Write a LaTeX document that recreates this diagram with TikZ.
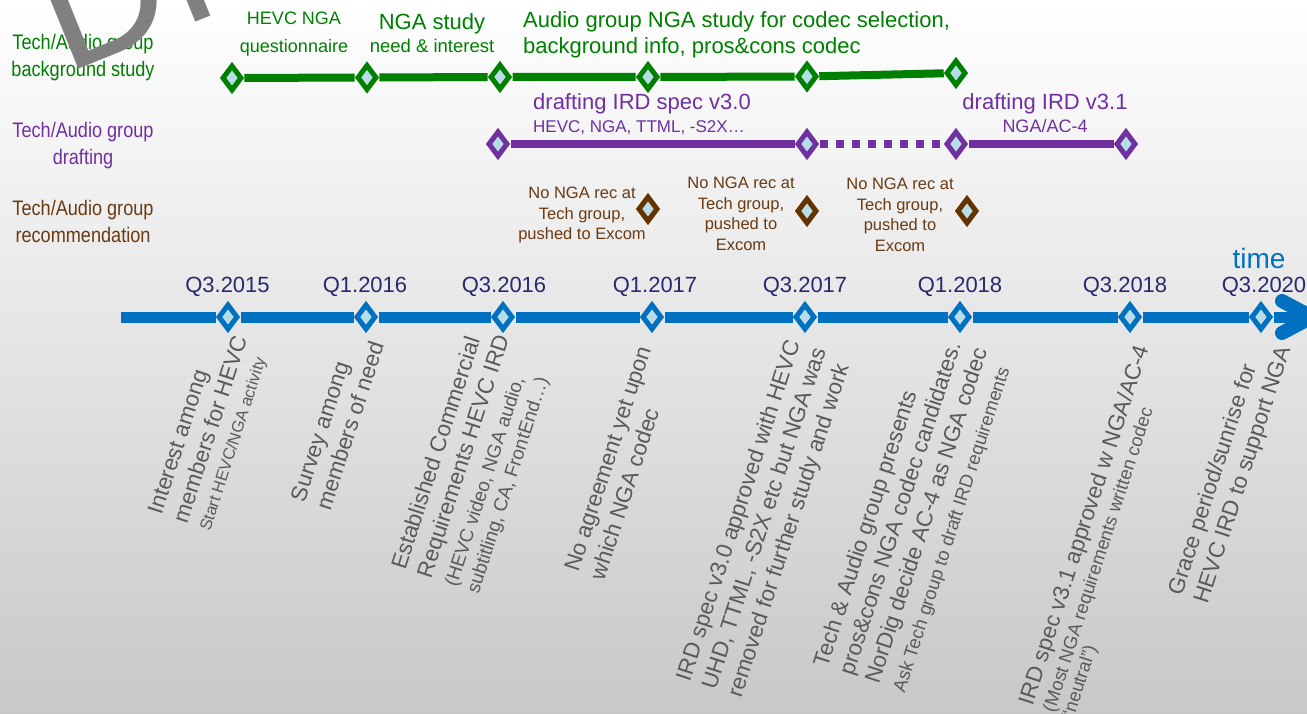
\documentclass[tikz,border=0pt]{standalone}
\usepackage{fontspec}
\setmainfont{Liberation Sans}
\usetikzlibrary{shapes.geometric}
\definecolor{cgreen}{HTML}{008000}
\definecolor{cpurple}{HTML}{7030A0}
\definecolor{cbrown}{HTML}{663300}
\definecolor{cbrowntxt}{HTML}{6B3A12}
\definecolor{cblue}{HTML}{0070C0}
\definecolor{cfill}{HTML}{B7DEE8}
\definecolor{cnavy}{HTML}{29296E}
\definecolor{cgraytxt}{HTML}{5A5A5A}
\definecolor{cbgbot}{HTML}{C8C8C8}
\definecolor{cwm}{HTML}{808080}
\newcommand{\fs}[2]{\fontsize{#1}{#2}\selectfont}
\begin{document}
\begin{tikzpicture}[x=1pt,y=-1pt,
  dia/.style={shape=diamond, draw, line width=5pt, fill=cfill, aspect=0.77, minimum width=20pt, minimum height=26pt, inner sep=0pt},
  gdia/.style={dia, draw=cgreen},
  pdia/.style={dia, draw=cpurple},
  bdia/.style={dia, draw=cbrown},
  adia/.style={dia, draw=cblue},
  gline/.style={draw=cgreen, line width=8pt},
  pline/.style={draw=cpurple, line width=8pt},
  pdots/.style={pline, dash pattern=on 8pt off 8pt},
  axisline/.style={draw=cblue, line width=11pt},
  rowlab/.style={align=center, xscale=0.863, font=\fs{21}{27}, inner sep=0pt},
  qlab/.style={anchor=base, text=cnavy, font=\fs{22}{26}, inner sep=0pt},
  rot/.style={rotate=72, anchor=west, align=left, text=cgraytxt, font=\fs{22.5}{27}, inner sep=0pt},
  brtxt/.style={align=center, text=cbrowntxt, font=\fs{16.5}{20.5}, inner sep=0pt},
]
\useasboundingbox (0,0) rectangle (1307,714);
\shade[top color=white, bottom color=cbgbot] (0,0) rectangle (1307,714);

% row labels
\node[rowlab, text=cgreen] (lab1) at (83,57.8) {Tech/Audio group\\background study};
\node[rowlab, text=cpurple] (lab2) at (83,145.8) {Tech/Audio group\\drafting};
\node[rowlab, text=cbrowntxt] (lab3) at (83,221.6) {Tech/Audio group\\recommendation};

% green row
\node[gdia] (g1) at (232,78) {};
\node[gdia] (g2) at (367,77.5) {};
\node[gdia] (g3) at (500,77) {};
\node[gdia] (g4) at (648,77) {};
\node[gdia] (g5) at (807,76.5) {};
\node[gdia] (g6) at (956,73) {};
\draw[gline] (g1) -- (g2) -- (g3) -- (g4) -- (g5) -- (g6);
\node[align=center, text=cgreen, font=\fs{18}{28}, inner sep=0pt] (gt1) at (294,33.9) {HEVC NGA\\questionnaire};
\node[align=center, text=cgreen, font=\fs{22}{23}, inner sep=0pt] (gt2) at (432,33.5) {NGA study\\{\fs{18.5}{23}need \& interest}};
\node[align=left, anchor=west, text=cgreen, font=\fs{22}{26}, inner sep=0pt] (gt3) at (523,34.9) {Audio group NGA study for codec selection,\\background info, pros\&cons codec};

% purple row
\node[pdia] (p1) at (498,144) {};
\node[pdia] (p2) at (807,144) {};
\node[pdia] (p3) at (956,144) {};
\node[pdia] (p4) at (1126,144) {};
\draw[pline] (p1) -- (p2);
\draw[pdots] (p2) -- (p3);
\draw[pline] (p3) -- (p4);
\node[align=left, anchor=west, text=cpurple, font=\fs{22}{23}, inner sep=0pt] (pt1) at (533,114.5) {drafting IRD spec v3.0\\{\fs{17}{23}HEVC, NGA, TTML, -S2X…}};
\node[align=center, text=cpurple, font=\fs{22}{23}, inner sep=0pt] (pt2) at (1045,113.3) {drafting IRD v3.1\\{\fs{18}{23}NGA/AC-4}};

% brown row
\node[bdia] (r1) at (648,209) {};
\node[bdia] (r2) at (807,211) {};
\node[bdia] (r3) at (967,211) {};
\node[brtxt] (rt1) at (582,215.3) {No NGA rec at\\Tech group,\\pushed to Excom};
\node[brtxt] (rt2) at (741,214) {No NGA rec at\\Tech group,\\pushed to\\Excom};
\node[brtxt] (rt3) at (900,215) {No NGA rec at\\Tech group,\\pushed to\\Excom};

% time axis
\coordinate (ax0) at (121,317);
\node[adia] (a1) at (228,317) {};
\node[adia] (a2) at (366,317) {};
\node[adia] (a3) at (503,317) {};
\node[adia] (a4) at (652,317) {};
\node[adia] (a5) at (805,317) {};
\node[adia] (a6) at (960,317) {};
\node[adia] (a7) at (1130,317) {};
\node[adia] (a8) at (1261,317) {};
\coordinate (tip) at (1312,317);
\coordinate (armU) at (1282,301);
\coordinate (armL) at (1282,333);
\draw[axisline] (ax0) -- (a1) -- (a2) -- (a3) -- (a4) -- (a5) -- (a6) -- (a7) -- (a8) -- (tip);
\draw[draw=cblue, line width=14pt, line cap=round, line join=round] (armU) -- (tip) -- (armL);

\node[qlab] (q1) at (227.5,292) {Q3.2015};
\node[qlab] (q2) at (365,292) {Q1.2016};
\node[qlab] (q3) at (504,292) {Q3.2016};
\node[qlab] (q4) at (655,292) {Q1.2017};
\node[qlab] (q5) at (805,292) {Q3.2017};
\node[qlab] (q6) at (960,292) {Q1.2018};
\node[qlab] (q7) at (1125,292) {Q3.2018};
\node[qlab] (q8) at (1264,292) {Q3.2020};
\node[anchor=base, text=cblue, font=\fs{28}{30}, inner sep=0pt] (time) at (1259,269) {time};

% rotated descriptions
\node[rot] (t1) at (180,522) {Interest among\\members for HEVC\\[-3pt]{\fs{16.5}{27}Start HEVC/NGA activity}};
\node[rot] (t2) at (310,505) {Survey among\\members of need};
\node[rot] (t3) at (436,581) {Established Commercial\\Requirements HEVC IRD\\{\fs{19}{27}(HEVC video, NGA audio,}\\[-4pt]{\fs{19}{27}subtitling, CA, FrontEnd…)}};
\node[rot] (t4) at (584,575) {No agreement yet upon\\which NGA codec};
\node[rot] (t5) at (710,689) {IRD spec v3.0 approved with HEVC\\UHD, TTML, -S2X etc but NGA was\\removed for further study and work};
\node[rot] (t6) at (860,679) {Tech \& Audio group presents\\pros\&cons NGA codec candidates.\\NorDig decide AC-4 as NGA codec\\{\fs{18.5}{27}Ask Tech group to draft IRD requirements}};
\node[rot] (t7) at (1047,711) {IRD spec v3.1 approved w NGA/AC-4\\[-4pt]{\fs{18.5}{27}(Most NGA requirements written codec}\\[-7pt]{\fs{18.5}{27}“neutral”)}};
\node[rot] (t8) at (1189,599) {Grace period/sunrise for\\HEVC IRD to support NGA};

% watermark
\begin{scope}
\clip (0,0) rectangle (1307,714);
\node[rotate=22, anchor=base west, inner sep=0pt, text=cwm, font=\fs{174}{174}] (wm) at (65.6,75) {DRAFT};
\end{scope}
\end{tikzpicture}
\end{document}
